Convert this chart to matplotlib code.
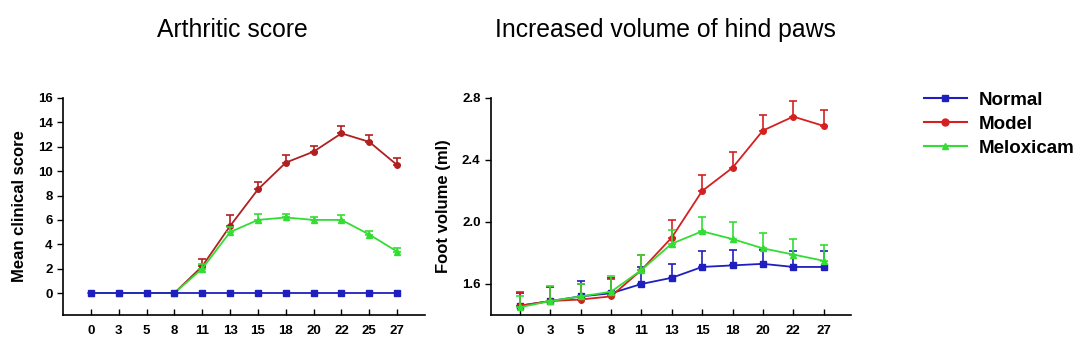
import matplotlib.pyplot as plt
from matplotlib.lines import Line2D

plt.rcParams['font.family'] = ['Liberation Sans', 'DejaVu Sans']

# Data

score_days = ["0", "3", "5", "8", "11", "13", "15", "18", "20", "22", "25", "27"]
score_normal = [0, 0, 0, 0, 0, 0, 0, 0, 0, 0, 0, 0]
score_model = [0, 0, 0, 0, 2.2, 5.5, 8.5, 10.7, 11.6, 13.1, 12.4, 10.5]
score_model_err = [0, 0, 0, 0, 0.6, 0.9, 0.6, 0.6, 0.5, 0.6, 0.6, 0.6]
score_melox = [0, 0, 0, 0, 2.0, 5.0, 6.0, 6.2, 6.0, 6.0, 4.8, 3.4]
score_melox_err = [0, 0, 0, 0, 0.4, 0.4, 0.5, 0.3, 0.2, 0.4, 0.3, 0.3]

vol_days = ["0", "3", "5", "8", "11", "13", "15", "18", "20", "22", "27"]
vol_normal = [1.46, 1.49, 1.52, 1.54, 1.60, 1.64, 1.71, 1.72, 1.73, 1.71, 1.71]
vol_normal_err = [0.08, 0.09, 0.10, 0.10, 0.11, 0.09, 0.10, 0.10, 0.09, 0.10, 0.10]
vol_model = [1.46, 1.49, 1.50, 1.52, 1.69, 1.90, 2.20, 2.35, 2.59, 2.68, 2.62]
vol_model_err = [0.09, 0.09, 0.10, 0.11, 0.10, 0.11, 0.10, 0.10, 0.10, 0.10, 0.10]
vol_melox = [1.45, 1.49, 1.52, 1.55, 1.69, 1.86, 1.94, 1.89, 1.83, 1.79, 1.75]
vol_melox_err = [0.07, 0.10, 0.08, 0.10, 0.10, 0.09, 0.09, 0.11, 0.10, 0.10, 0.10]

blue = "#1f1fbf"
red = "#d42020"
green = "#33dd33"

fig = plt.figure(figsize=(10.81, 3.54), dpi=100)
ax1 = fig.add_axes([63 / 1081, 39 / 354, 362 / 1081, 217 / 354])
ax2 = fig.add_axes([491 / 1081, 39 / 354, 360 / 1081, 217 / 354])


def draw(ax, days, series):
    x = list(range(len(days)))
    for vals, err, color, marker, ms in series:
        if err is not None:
            ax.errorbar(x, vals, yerr=[[0] * len(vals), err], fmt="none",
                        ecolor=color, elinewidth=1.2, capsize=3, capthick=1.2)
        ax.plot(x, vals, color=color, marker=marker, markersize=ms, lw=1.3)
    ax.set_xticks(x)
    ax.set_xticklabels(days)
    ax.spines["top"].set_visible(False)
    ax.spines["right"].set_visible(False)
    ax.spines["left"].set_linewidth(1.2)
    ax.spines["bottom"].set_linewidth(1.2)
    ax.tick_params(axis="x", direction="in", length=4, width=1, labelsize=9.5, pad=7)
    ax.tick_params(axis="y", direction="out", length=4, width=1, labelsize=9.5)
    for lab in ax.get_xticklabels() + ax.get_yticklabels():
        lab.set_fontweight("bold")


draw(ax1, score_days, [
    (score_model, score_model_err, "#b02020", "o", 4),
    (score_melox, score_melox_err, green, "^", 4),
    (score_normal, None, blue, "s", 4),
])
ax1.set_xlim(-1, 12)
ax1.set_ylim(-1.8, 16)
ax1.set_yticks(range(0, 17, 2))
ax1.set_ylabel("Mean clinical score", fontsize=12, fontweight="bold", labelpad=8)

draw(ax2, vol_days, [
    (vol_normal, vol_normal_err, blue, "s", 4),
    (vol_model, vol_model_err, red, "o", 4),
    (vol_melox, vol_melox_err, green, "^", 4),
])
ax2.set_xlim(-0.95, 10.9)
ax2.set_ylim(1.4, 2.8)
ax2.set_yticks([1.6, 2.0, 2.4, 2.8])
ax2.set_ylabel("Foot volume (ml)", fontsize=12, fontweight="bold", labelpad=8)

fig.text(232 / 1081, 1 - 30 / 354, "Arthritic score", fontsize=17.8, ha="center", va="center")
fig.text(665 / 1081, 1 - 30 / 354, "Increased volume of hind paws", fontsize=17.8,
         ha="center", va="center")

handles = [
    Line2D([], [], color=blue, marker="s", markersize=5, lw=1.5),
    Line2D([], [], color=red, marker="o", markersize=5, lw=1.5),
    Line2D([], [], color=green, marker="^", markersize=5, lw=1.5),
]
fig.legend(handles, ["Normal", "Model", "Meloxicam"], loc="upper left",
           bbox_to_anchor=(907 / 1081, 1 - 75 / 354), frameon=False,
           prop={"weight": "bold", "size": 13.5}, handlelength=2.3,
           labelspacing=0.36, handletextpad=0.6)

fig.savefig("out.png", dpi=100)
